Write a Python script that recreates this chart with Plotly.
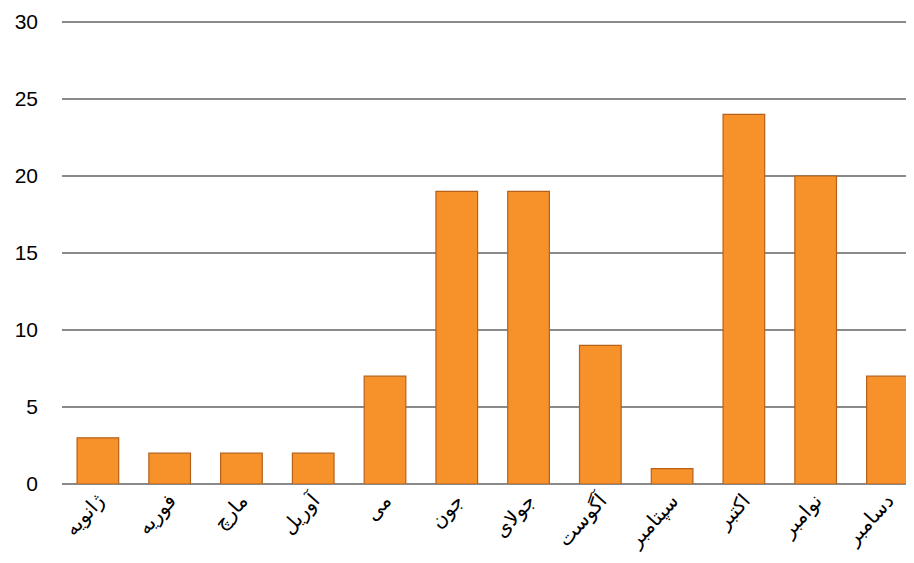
import plotly.graph_objects as go

months = ["ژانویه", "فوریه", "مارچ", "آوریل", "می", "جون", "جولای", "آگوست", "سپتامبر", "اکتبر", "نوامبر", "دسامبر"]
values = [3, 2, 2, 2, 7, 19, 19, 9, 1, 24, 20, 7]
y_ticks = [0, 5, 10, 15, 20, 25, 30]

fig = go.Figure()
fig.add_trace(go.Bar(
    x=list(range(len(months))),
    y=values,
    marker=dict(color="#F7922A", line=dict(color="#B5611A", width=1.2)),
    width=0.58,
))

fig.update_layout(
    width=906, height=555,
    margin=dict(l=54, r=0, t=12, b=79),
    paper_bgcolor="white", plot_bgcolor="white",
    showlegend=False,
    xaxis=dict(
        tickmode="array", tickvals=list(range(len(months))), ticktext=months,
        range=[-0.5, 11.37], tickangle=-48, automargin=False,
        tickfont=dict(family="DejaVu Sans", size=20, color="black"),
        showgrid=False, zeroline=False, showline=False, ticks="",
    ),
    yaxis=dict(
        range=[0, 30.13], tickvals=y_ticks, automargin=False,
        tickfont=dict(family="Liberation Sans", size=21, color="black"),
        showgrid=True, gridcolor="#8A8A8A", gridwidth=1.5,
        zeroline=True, zerolinecolor="#8A8A8A", zerolinewidth=1.5,
        ticks="", ticklen=0, showline=False, ticklabelstandoff=23,
    ),
)

fig.write_html("out.html")
